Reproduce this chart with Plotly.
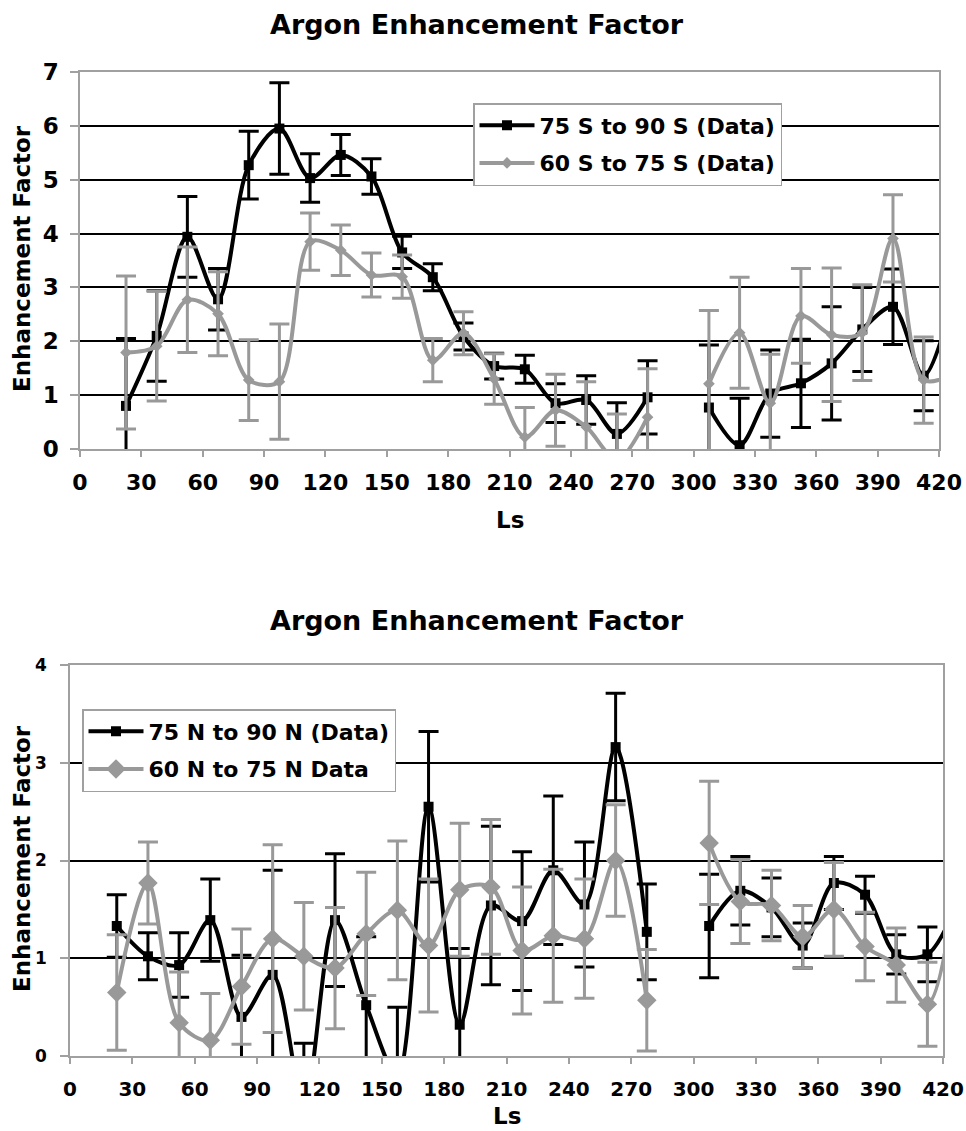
import plotly.graph_objects as go

# ---- data ----
ls = [22.5, 37.5, 52.5, 67.5, 82.5, 97.5, 112.5, 127.5, 142.5, 157.5, 172.5, 187.5, 202.5, 217.5,
      232.5, 247.5, 262.5, 277.5, 292.5, 307.5, 322.5, 337.5, 352.5, 367.5, 382.5, 397.5, 412.5, 427.5]

s75_90 = [0.80, 2.10, 3.94, 2.78, 5.27, 5.95, 5.03, 5.46, 5.06, 3.65, 3.19, 2.09, 1.54, 1.48,
          0.85, 0.91, 0.28, 0.96, None, 0.77, 0.07, 1.03, 1.22, 1.59, 2.22, 2.64, 1.36, 2.9]
s75_90_err = [1.25, 0.84, 0.75, 0.57, 0.63, 0.85, 0.45, 0.38, 0.33, 0.30, 0.25, 0.25, 0.24, 0.26,
              0.36, 0.45, 0.58, 0.68, None, 1.16, 0.87, 0.81, 0.82, 1.05, 0.78, 0.70, 0.65, 0.7]

s60_75 = [1.79, 1.91, 2.77, 2.51, 1.28, 1.25, 3.85, 3.69, 3.23, 3.20, 1.65, 2.15, 1.30, 0.22,
          0.72, 0.41, -0.20, 0.59, None, 1.21, 2.16, 0.85, 2.47, 2.12, 2.16, 3.91, 1.28, 1.4]
s60_75_err = [1.42, 1.02, 0.98, 0.78, 0.75, 1.07, 0.53, 0.47, 0.41, 0.40, 0.40, 0.40, 0.47, 0.55,
              0.67, 0.84, 0.85, 0.90, None, 1.36, 1.03, 0.91, 0.88, 1.24, 0.89, 0.81, 0.80, 0.8]

n75_90 = [1.33, 1.02, 0.93, 1.39, 0.40, 0.83, -0.50, 1.39, 0.52, -0.20, 2.55, 0.32, 1.54, 1.38,
          1.90, 1.55, 3.16, 1.27, None, 1.33, 1.69, 1.52, 1.13, 1.77, 1.65, 1.04, 1.04, 1.6]
n75_90_err = [0.32, 0.24, 0.33, 0.42, 0.63, 1.07, 0.63, 0.68, 0.70, 0.70, 0.77, 0.78, 0.81, 0.71,
              0.76, 0.64, 0.55, 0.49, None, 0.53, 0.35, 0.30, 0.23, 0.27, 0.19, 0.20, 0.28, 0.3]

n60_75 = [0.65, 1.77, 0.34, 0.16, 0.71, 1.20, 1.02, 0.90, 1.25, 1.49, 1.13, 1.70, 1.73, 1.08,
          1.23, 1.20, 2.00, 0.57, None, 2.18, 1.58, 1.54, 1.22, 1.50, 1.12, 0.93, 0.53, 2.0]
n60_75_err = [0.59, 0.42, 0.52, 0.48, 0.59, 0.96, 0.55, 0.62, 0.63, 0.71, 0.68, 0.68, 0.69, 0.65,
              0.68, 0.61, 0.57, 0.52, None, 0.63, 0.43, 0.36, 0.32, 0.48, 0.35, 0.38, 0.43, 0.5]

x_ticks = list(range(0, 421, 30))
title_text = "Argon Enhancement Factor"

# ---- styling ----
W, H = 966, 1131
FONT = "DejaVu Sans"
BLACK = "#000000"
GRAY = "#999999"
AXGRAY = "#a0a0a0"


def px_x(p):
    return p / W


def px_y(p):
    return 1 - p / H


fig = go.Figure()


def add_series(x, y, err, name, color, symbol, msize, xa, ya, legend, grp):
    fig.add_trace(go.Scatter(
        x=x, y=y, name=name, mode="lines+markers",
        line=dict(color=color, width=4, shape="spline", smoothing=0.9),
        marker=dict(color=color, symbol=symbol, size=msize, line=dict(width=0)),
        error_y=dict(type="data", array=err, symmetric=True, color=color,
                     thickness=3, width=10),
        xaxis=xa, yaxis=ya, legend=legend, legendgroup=grp,
    ))


add_series(ls, s75_90, s75_90_err, "75 S to 90 S (Data)", BLACK, "square", 10, "x", "y", "legend", "a")
add_series(ls, s60_75, s60_75_err, "60 S to 75 S (Data)", GRAY, "diamond", 9, "x", "y", "legend", "b")
add_series(ls, n75_90, n75_90_err, "75 N to 90 N (Data)", BLACK, "square", 10, "x2", "y2", "legend2", "c")
add_series(ls, n60_75, n60_75_err, "60 N to 75 N Data", GRAY, "diamond", 15, "x2", "y2", "legend2", "d")


def xaxis(domain, anchor, fsize, standoff):
    return dict(domain=domain, anchor=anchor, range=[0, 420], tickvals=x_ticks,
                showline=True, linecolor=AXGRAY, linewidth=1.5, mirror=True,
                ticks="outside", ticklen=6, tickwidth=1.5, tickcolor=AXGRAY,
                showgrid=False, zeroline=False, automargin=False,
                tickfont=dict(family=FONT, size=fsize, color=BLACK, weight="bold"),
                ticklabelstandoff=standoff)


def yaxis(domain, anchor, rmax, fsize, standoff):
    return dict(domain=domain, anchor=anchor, range=[0, rmax], dtick=1, tick0=0,
                showline=True, linecolor=AXGRAY, linewidth=1.5, mirror=True,
                ticks="outside", ticklen=8, tickwidth=1.5, tickcolor=AXGRAY,
                showgrid=True, gridcolor=BLACK, gridwidth=1.5, zeroline=False,
                automargin=False,
                tickfont=dict(family=FONT, size=fsize, color=BLACK, weight="bold"),
                ticklabelstandoff=standoff)


legend_common = dict(bgcolor="white", bordercolor=AXGRAY, borderwidth=1.5,
                     itemwidth=55, traceorder="grouped", tracegroupgap=6,
                     font=dict(family=FONT, size=22, color=BLACK, weight="bold"),
                     xanchor="left", yanchor="top")

fig.update_layout(
    width=W, height=H, margin=dict(l=0, r=0, t=0, b=0, autoexpand=False),
    paper_bgcolor="white", plot_bgcolor="white",
    xaxis=xaxis([px_x(80), px_x(939)], "y", 22, 7),
    yaxis=yaxis([px_y(449), px_y(72)], "x", 7, 23, 7),
    xaxis2=xaxis([px_x(70), px_x(943)], "y2", 20, 8),
    yaxis2=yaxis([px_y(1056), px_y(665)], "x2", 4, 17, 10),
    legend=dict(x=px_x(473), y=px_y(103), **legend_common),
    legend2=dict(x=px_x(82), y=px_y(709), **legend_common),
)

ann_font_title = dict(family=FONT, size=27, color=BLACK, weight="bold")
ann_font_axis = dict(family=FONT, size=23, color=BLACK, weight="bold")
annotations = [
    dict(text=title_text, x=px_x(477), y=px_y(25), font=ann_font_title, yanchor="middle"),
    dict(text=title_text, x=px_x(477), y=px_y(620), font=ann_font_title, yanchor="middle"),
    dict(text="Ls", x=px_x(510), y=px_y(520), font=ann_font_axis, yanchor="middle"),
    dict(text="Ls", x=px_x(507), y=px_y(1130), font=ann_font_axis, yanchor="bottom",
         borderpad=0),
    dict(text="Enhancement Factor", x=px_x(22), y=px_y(259), font=ann_font_axis,
         textangle=-90, yanchor="middle"),
    dict(text="Enhancement Factor", x=px_x(22), y=px_y(859), font=ann_font_axis,
         textangle=-90, yanchor="middle"),
]
for a in annotations:
    a.update(xref="paper", yref="paper", showarrow=False, xanchor="center")
fig.update_layout(annotations=annotations)

fig.write_html("out.html")
